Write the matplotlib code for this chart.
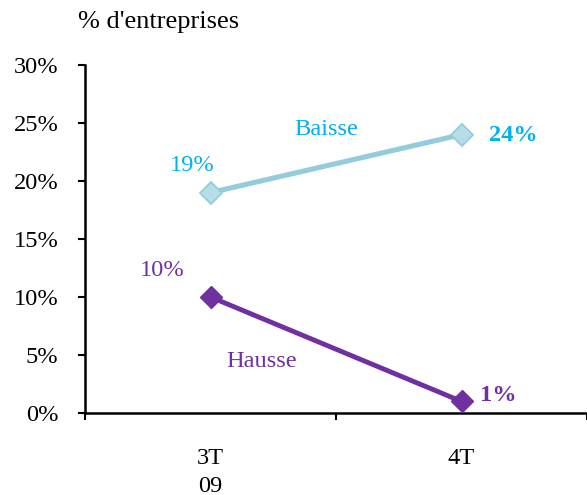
import matplotlib
matplotlib.use("Agg")
import matplotlib.pyplot as plt
from matplotlib.ticker import FixedLocator, NullFormatter, FixedFormatter

plt.rcParams['font.family'] = ['Liberation Serif', 'DejaVu Serif']

categories = ["3T\n09", "4T"]
baisse = [19, 24]
hausse = [10, 1]

BAISSE_LINE = "#93CDDD"
BAISSE_FILL = "#B7DEE8"
BAISSE_TEXT = "#00B0F0"
HAUSSE = "#7030A0"
FS = 17.6

fig = plt.figure(figsize=(5.87, 4.95), dpi=100)
ax = fig.add_axes([85/587, 82/495, 502/587, 348/495])

x = list(range(len(categories)))
ax.plot(x, baisse, color=BAISSE_LINE, lw=3.7, marker="D", ms=11,
        mfc=BAISSE_FILL, mec=BAISSE_LINE, mew=1.3, zorder=3)
ax.plot(x, hausse, color=HAUSSE, lw=3.5, marker="D", ms=11.5,
        mfc=HAUSSE, mec=HAUSSE, zorder=3)

ax.set_xlim(-0.5, len(categories) - 0.5)
ax.set_ylim(0, 30)

ax.set_yticks(range(0, 31, 5))
ax.set_yticklabels([f"{v}%" for v in range(0, 31, 5)], fontsize=FS)
ax.tick_params(axis="y", direction="out", length=5, width=1.5, pad=14)

ax.xaxis.set_major_locator(FixedLocator([i - 0.5 for i in range(len(categories) + 1)]))
ax.xaxis.set_major_formatter(NullFormatter())
ax.xaxis.set_minor_locator(FixedLocator(x))
ax.xaxis.set_minor_formatter(FixedFormatter(categories))
ax.tick_params(axis="x", which="major", direction="out", length=5, width=1.5)
ax.tick_params(axis="x", which="minor", length=0, pad=25, labelsize=FS)
for lab in ax.get_xticklabels(minor=True):
    lab.set_linespacing(1.45)

for s in ["top", "right"]:
    ax.spines[s].set_visible(False)
for s in ["left", "bottom"]:
    ax.spines[s].set_linewidth(1.8)

# value labels
ax.annotate(f"{baisse[0]}%", (x[0], baisse[0]), xytext=(-13, 19.5),
            textcoords="offset points", ha="center", va="center",
            color=BAISSE_TEXT, fontsize=FS)
ax.annotate(f"{baisse[1]}%", (x[1], baisse[1]), xytext=(37.5, -0.7),
            textcoords="offset points", ha="center", va="center",
            color=BAISSE_TEXT, fontsize=FS, fontweight="bold")
ax.annotate(f"{hausse[0]}%", (x[0], hausse[0]), xytext=(-35, 19),
            textcoords="offset points", ha="center", va="center",
            color=HAUSSE, fontsize=FS)
ax.annotate(f"{hausse[1]}%", (x[1], hausse[1]), xytext=(26.5, 4.5),
            textcoords="offset points", ha="center", va="center",
            color=HAUSSE, fontsize=FS, fontweight="bold")

ax.text(0.46, 24.4, "Baisse", color=BAISSE_TEXT, fontsize=FS, ha="center", va="center")
ax.text(0.205, 4.4, "Hausse", color=HAUSSE, fontsize=FS, ha="center", va="center")

fig.text(78/587, 1 - 22/495, "% d'entreprises", fontsize=19, ha="left", va="center")

fig.savefig("out.png", dpi=100)
